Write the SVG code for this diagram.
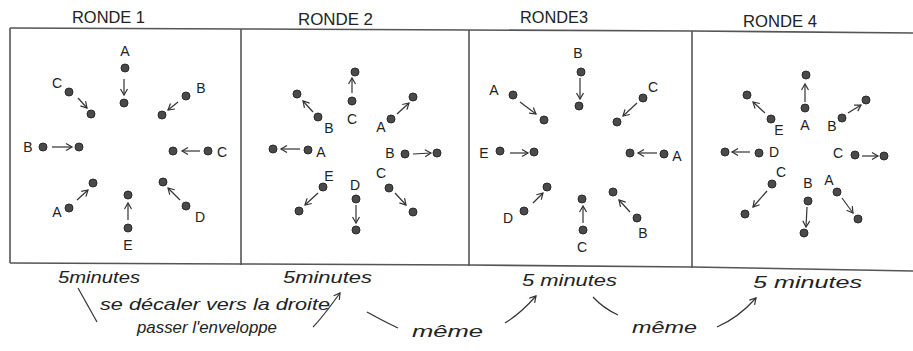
<svg xmlns="http://www.w3.org/2000/svg" width="913" height="351" viewBox="0 0 913 351">
<defs>
<marker id="ah" markerUnits="userSpaceOnUse" markerWidth="9" markerHeight="9" refX="7" refY="4.5" orient="auto">
<path d="M1,1 L7,4.5 L1,8" fill="none" stroke="#333" stroke-width="1.2"/>
</marker>
<style>
.frame{fill:none;stroke:#555;stroke-width:1.6}
.t{font-family:"Liberation Sans",Arial,sans-serif;fill:#222}
.title{font-size:16px}
.lb{font-size:14px;text-anchor:middle}
.hw{font-size:17px;font-style:italic}
.d{fill:#4a4a4a;stroke:#2a2a2a;stroke-width:1}
.c{stroke:#333;stroke-width:1.2;fill:none;marker-end:url(#ah)}
.ln{stroke:#333;stroke-width:1.2;fill:none}
</style>
</defs>
<rect width="913" height="351" fill="#fff"/>

<g id="frames">
<polyline class="frame" points="10,28 241,29 469,30 692,31 913,33"/>
<polyline class="frame" points="10,263 241,264 469,265 692,267 913,271"/>
<line class="frame" x1="10" y1="28" x2="10" y2="263"/>
<line class="frame" x1="241" y1="29" x2="241" y2="265"/>
<line class="frame" x1="469" y1="30" x2="469" y2="266"/>
<line class="frame" x1="692" y1="31" x2="692" y2="268"/>
</g>

<g id="titles">
<text class="t title" x="72" y="23" textLength="73" lengthAdjust="spacingAndGlyphs">RONDE 1</text>
<text class="t title" x="298" y="25" textLength="75" lengthAdjust="spacingAndGlyphs">RONDE 2</text>
<text class="t title" x="520" y="23" textLength="68" lengthAdjust="spacingAndGlyphs">RONDE3</text>
<text class="t title" x="743" y="27" textLength="74" lengthAdjust="spacingAndGlyphs">RONDE 4</text>
</g>

<g id="ronde1">
<g id="r1-A-top"><text class="t lb" x="125" y="56">A</text><circle class="d" cx="125" cy="68" r="4"/><circle class="d" cx="124" cy="103" r="4"/></g>
<g id="r1-B-ur"><text class="t lb" x="201" y="93">B</text><circle class="d" cx="186" cy="96" r="4"/><circle class="d" cx="162" cy="115" r="4"/></g>
<g id="r1-C-ul"><text class="t lb" x="57" y="88">C</text><circle class="d" cx="69" cy="92" r="4"/><circle class="d" cx="91" cy="114" r="4"/></g>
<g id="r1-B-l"><text class="t lb" x="28" y="152">B</text><circle class="d" cx="43" cy="147" r="4"/><circle class="d" cx="79" cy="147" r="4"/></g>
<g id="r1-C-r"><text class="t lb" x="222" y="157">C</text><circle class="d" cx="208" cy="151" r="4"/><circle class="d" cx="173" cy="151" r="4"/></g>
<g id="r1-A-ll"><text class="t lb" x="57" y="217">A</text><circle class="d" cx="69" cy="208" r="4"/><circle class="d" cx="93" cy="183" r="4"/></g>
<g id="r1-E-b"><text class="t lb" x="128" y="250">E</text><circle class="d" cx="128" cy="228" r="4"/><circle class="d" cx="128" cy="195" r="4"/></g>
<g id="r1-D-lr"><text class="t lb" x="200" y="222">D</text><circle class="d" cx="186" cy="206" r="4"/><circle class="d" cx="163" cy="182" r="4"/></g>
</g>

<g id="ronde2">
<g id="r2-C-top"><text class="t lb" x="352" y="124">C</text><circle class="d" cx="355" cy="72" r="4"/><circle class="d" cx="352" cy="101" r="4"/></g>
<g id="r2-A-ur"><text class="t lb" x="381" y="132">A</text><circle class="d" cx="391" cy="119" r="4"/><circle class="d" cx="413" cy="97" r="4"/></g>
<g id="r2-B-ul"><text class="t lb" x="329" y="133">B</text><circle class="d" cx="318" cy="117" r="4"/><circle class="d" cx="297" cy="94" r="4"/></g>
<g id="r2-A-l"><text class="t lb" x="321" y="157">A</text><circle class="d" cx="308" cy="150" r="4"/><circle class="d" cx="273" cy="149" r="4"/></g>
<g id="r2-B-r"><text class="t lb" x="390" y="158">B</text><circle class="d" cx="405" cy="154" r="4"/><circle class="d" cx="437" cy="153" r="4"/></g>
<g id="r2-E-ll"><text class="t lb" x="329" y="181">E</text><circle class="d" cx="323" cy="187" r="4"/><circle class="d" cx="299" cy="211" r="4"/></g>
<g id="r2-D-b"><text class="t lb" x="355" y="190">D</text><circle class="d" cx="356" cy="199" r="4"/><circle class="d" cx="356" cy="230" r="4"/></g>
<g id="r2-C-lr"><text class="t lb" x="381" y="178">C</text><circle class="d" cx="389" cy="188" r="4"/><circle class="d" cx="413" cy="212" r="4"/></g>
</g>

<g id="ronde3">
<g id="r3-B-top"><text class="t lb" x="578" y="58">B</text><circle class="d" cx="581" cy="72" r="4"/><circle class="d" cx="579" cy="106" r="4"/></g>
<g id="r3-A-ul"><text class="t lb" x="494" y="95">A</text><circle class="d" cx="513" cy="95" r="4"/><circle class="d" cx="544" cy="120" r="4"/></g>
<g id="r3-C-ur"><text class="t lb" x="653" y="92">C</text><circle class="d" cx="643" cy="98" r="4"/><circle class="d" cx="617" cy="122" r="4"/></g>
<g id="r3-E-l"><text class="t lb" x="484" y="158">E</text><circle class="d" cx="500" cy="151" r="4"/><circle class="d" cx="534" cy="152" r="4"/></g>
<g id="r3-A-r"><text class="t lb" x="677" y="161">A</text><circle class="d" cx="664" cy="154" r="4"/><circle class="d" cx="630" cy="153" r="4"/></g>
<g id="r3-D-ll"><text class="t lb" x="508" y="223">D</text><circle class="d" cx="524" cy="211" r="4"/><circle class="d" cx="547" cy="187" r="4"/></g>
<g id="r3-C-b"><text class="t lb" x="582" y="252">C</text><circle class="d" cx="582" cy="199" r="4"/><circle class="d" cx="583" cy="230" r="4"/></g>
<g id="r3-B-lr"><text class="t lb" x="643" y="238">B</text><circle class="d" cx="613" cy="192" r="4"/><circle class="d" cx="637" cy="218" r="4"/></g>
</g>

<g id="ronde4">
<g id="r4-A-top"><text class="t lb" x="805" y="130">A</text><circle class="d" cx="806" cy="75" r="4"/><circle class="d" cx="805" cy="108" r="4"/></g>
<g id="r4-B-ur"><text class="t lb" x="832" y="131">B</text><circle class="d" cx="842" cy="118" r="4"/><circle class="d" cx="866" cy="100" r="4"/></g>
<g id="r4-E-ul"><text class="t lb" x="779" y="135">E</text><circle class="d" cx="771" cy="119" r="4"/><circle class="d" cx="747" cy="95" r="4"/></g>
<g id="r4-D-l"><text class="t lb" x="774" y="157">D</text><circle class="d" cx="759" cy="153" r="4"/><circle class="d" cx="725" cy="152" r="4"/></g>
<g id="r4-C-r"><text class="t lb" x="838" y="158">C</text><circle class="d" cx="855" cy="155" r="4"/><circle class="d" cx="884" cy="156" r="4"/></g>
<g id="r4-C-ll"><text class="t lb" x="781" y="177">C</text><circle class="d" cx="772" cy="184" r="4"/><circle class="d" cx="745" cy="214" r="4"/></g>
<g id="r4-B-b"><text class="t lb" x="808" y="188">B</text><circle class="d" cx="808" cy="201" r="4"/><circle class="d" cx="804" cy="233" r="4"/></g>
<g id="r4-A-lr"><text class="t lb" x="829" y="185">A</text><circle class="d" cx="837" cy="192" r="4"/><circle class="d" cx="858" cy="219" r="4"/></g>
</g>

<g id="connectors">
<line class="c" x1="124" y1="79" x2="124" y2="95"/>
<line class="c" x1="178" y1="102" x2="168" y2="110"/>
<line class="c" x1="78" y1="98" x2="87" y2="108"/>
<line class="c" x1="52" y1="147" x2="72" y2="147"/>
<line class="c" x1="200" y1="151" x2="182" y2="151"/>
<line class="c" x1="77" y1="200" x2="88" y2="190"/>
<line class="c" x1="128" y1="220" x2="128" y2="203"/>
<line class="c" x1="180" y1="200" x2="168" y2="188"/>

<line class="c" x1="352" y1="93" x2="352" y2="78"/>
<line class="c" x1="397" y1="114" x2="409" y2="103"/>
<line class="c" x1="313" y1="112" x2="303" y2="101"/>
<line class="c" x1="300" y1="149" x2="281" y2="149"/>
<line class="c" x1="413" y1="154" x2="431" y2="153"/>
<line class="c" x1="318" y1="193" x2="305" y2="205"/>
<line class="c" x1="356" y1="205" x2="356" y2="223"/>
<line class="c" x1="395" y1="193" x2="406" y2="205"/>

<line class="c" x1="580" y1="78" x2="580" y2="99"/>
<line class="c" x1="520" y1="102" x2="536" y2="114"/>
<line class="c" x1="637" y1="103" x2="623" y2="116"/>
<line class="c" x1="510" y1="153" x2="528" y2="153"/>
<line class="c" x1="657" y1="153" x2="638" y2="153"/>
<line class="c" x1="533" y1="203" x2="543" y2="193"/>
<line class="c" x1="583" y1="223" x2="583" y2="206"/>
<line class="c" x1="630" y1="212" x2="619" y2="200"/>

<line class="c" x1="805" y1="102" x2="805" y2="84"/>
<line class="c" x1="848" y1="113" x2="861" y2="105"/>
<line class="c" x1="765" y1="113" x2="753" y2="102"/>
<line class="c" x1="750" y1="152" x2="732" y2="152"/>
<line class="c" x1="862" y1="156" x2="878" y2="156"/>
<line class="c" x1="767" y1="191" x2="753" y2="207"/>
<line class="c" x1="807" y1="207" x2="806" y2="227"/>
<line class="c" x1="842" y1="198" x2="853" y2="213"/>

<path class="ln" d="M78,288 L97,322"/>
<path class="c" d="M313,327 Q322,318 340,293"/>
<path class="ln" d="M367,312 Q385,322 398,328"/>
<path class="c" d="M505,323 Q520,314 536,296"/>
<path class="ln" d="M593,297 Q603,308 618,315"/>
<path class="c" d="M717,327 Q738,318 756,298"/>
</g>

<g id="notes">
<text class="t hw" x="58" y="283" textLength="82" lengthAdjust="spacingAndGlyphs">5minutes</text>
<text class="t hw" x="283" y="283" textLength="89" lengthAdjust="spacingAndGlyphs">5minutes</text>
<text class="t hw" x="522" y="286" textLength="95" lengthAdjust="spacingAndGlyphs">5 minutes</text>
<text class="t hw" x="753" y="288" textLength="109" lengthAdjust="spacingAndGlyphs">5 minutes</text>
<text class="t hw" x="100" y="310" textLength="230" lengthAdjust="spacingAndGlyphs">se décaler vers la droite</text>
<text class="t hw" x="137" y="333" textLength="140" lengthAdjust="spacingAndGlyphs">passer l'enveloppe</text>
<text class="t hw" x="412" y="337" textLength="71" lengthAdjust="spacingAndGlyphs">même</text>
<text class="t hw" x="632" y="333" textLength="65" lengthAdjust="spacingAndGlyphs">même</text>
</g>
</svg>
